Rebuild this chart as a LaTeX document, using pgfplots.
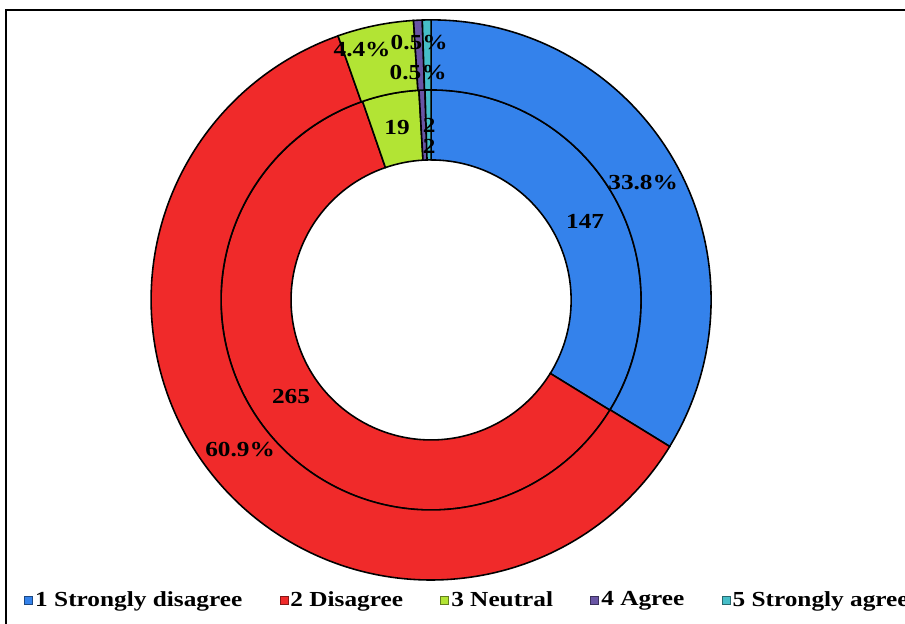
\documentclass[border=0pt]{standalone}
\usepackage{fontspec}
\setmainfont[FakeStretch=1.18]{Liberation Serif}
\usepackage{pgfplots}
\usepackage{pgfplotstable}
\pgfplotsset{compat=1.18}

\definecolor{c0}{RGB}{52,130,235}
\definecolor{c1}{RGB}{240,42,42}
\definecolor{c2}{RGB}{178,228,52}
\definecolor{c3}{RGB}{105,85,165}
\definecolor{c4}{RGB}{70,190,200}
\newcommand\lblfont{\fontsize{12.2}{14.6}\selectfont\bfseries}

% responses: count (inner ring), percent (outer ring), label positions
\pgfplotstableread{
cat count pct ox  oy  ix  iy
0   147   33.8 643 440 585 401
1   265   60.9 240 173 291 226
2   19    4.4  362 573 397 495
3   2     0.5  419 580 429 497
4   2     0.5  418 550 429 477
}\responses
\pgfplotstablecreatecol[create col/expr accum={\pgfmathaccuma+\thisrow{count}}{0}]{ccum}\responses
\pgfplotstablecreatecol[create col/expr accum={\pgfmathaccuma+\thisrow{pct}}{0}]{pcum}\responses
\pgfplotstablegetelem{4}{ccum}\of\responses \let\ctotal\pgfplotsretval
\pgfplotstablegetelem{4}{pcum}\of\responses \let\ptotal\pgfplotsretval

\begin{document}
\begin{tikzpicture}
\path[use as bounding box, clip] (0,0) rectangle (18.1cm,12.46cm);
\begin{axis}[
  x=0.02cm, y=0.02cm,
  xmin=0, xmax=905, ymin=0, ymax=623,
  hide axis, clip=false,
  legend columns=5,
  legend cell align=left,
  legend style={at={(axis description cs:0.0265,0.0369)}, anchor=west,
    draw=none, fill=none, inner sep=0pt, font=\lblfont,
    nodes={inner sep=1.2pt},
    /tikz/every even column/.append style={column sep=20pt}},
  legend image code/.code={\filldraw[#1] (0pt,-2.3pt) rectangle (4.6pt,2.3pt);},
]
\addlegendimage{fill=c0, draw=c0!55!black}
\addlegendimage{fill=c1, draw=c1!55!black}
\addlegendimage{fill=c2, draw=c2!55!black}
\addlegendimage{fill=c3, draw=c3!55!black}
\addlegendimage{fill=c4, draw=c4!55!black}
\legend{1 Strongly disagree, 2 Disagree, 3 Neutral, 4 Agree, 5 Strongly agree}

% frame
\draw[line width=1pt] (axis cs:6,-20) -- (axis cs:6,613) -- (axis cs:930,613);

% rings: inner from counts, outer from percentages
\pgfplotsinvokeforeach{0,...,4}{
  \pgfplotstablegetelem{#1}{count}\of\responses \let\cnt\pgfplotsretval
  \pgfplotstablegetelem{#1}{ccum}\of\responses \let\ccm\pgfplotsretval
  \pgfplotstablegetelem{#1}{pct}\of\responses \let\pc\pgfplotsretval
  \pgfplotstablegetelem{#1}{pcum}\of\responses \let\pcm\pgfplotsretval
  \pgfmathsetmacro\ia{90-(\ccm-\cnt)/\ctotal*360}
  \pgfmathsetmacro\ib{90-\ccm/\ctotal*360}
  \pgfmathsetmacro\oa{90-(\pcm-\pc)/\ptotal*360}
  \pgfmathsetmacro\ob{90-\pcm/\ptotal*360}
  % inner ring corners (r = 140 and 210)
  \pgfmathsetmacro\ixa{431+210*cos(\ia)}\pgfmathsetmacro\iya{323+210*sin(\ia)}
  \pgfmathsetmacro\ixb{431+140*cos(\ib)}\pgfmathsetmacro\iyb{323+140*sin(\ib)}
  % outer ring corners (r = 210 and 280)
  \pgfmathsetmacro\oxa{431+280*cos(\oa)}\pgfmathsetmacro\oya{323+280*sin(\oa)}
  \pgfmathsetmacro\oxb{431+210*cos(\ob)}\pgfmathsetmacro\oyb{323+210*sin(\ob)}
  \edef\wedges{%
    \noexpand\filldraw[fill=c#1, draw=black, line width=0.9pt]
      (axis cs:\ixa,\iya) arc[start angle=\ia, end angle=\ib, radius=4.2cm]
      -- (axis cs:\ixb,\iyb) arc[start angle=\ib, end angle=\ia, radius=2.8cm] -- cycle;
    \noexpand\filldraw[fill=c#1, draw=black, line width=0.9pt]
      (axis cs:\oxa,\oya) arc[start angle=\oa, end angle=\ob, radius=5.6cm]
      -- (axis cs:\oxb,\oyb) arc[start angle=\ob, end angle=\oa, radius=4.2cm] -- cycle;
  }
  \wedges
}
% data labels
\pgfplotsinvokeforeach{0,...,4}{
  \pgfplotstablegetelem{#1}{count}\of\responses \let\cnt\pgfplotsretval
  \pgfplotstablegetelem{#1}{pct}\of\responses \let\pc\pgfplotsretval
  \pgfplotstablegetelem{#1}{ox}\of\responses \let\lox\pgfplotsretval
  \pgfplotstablegetelem{#1}{oy}\of\responses \let\loy\pgfplotsretval
  \pgfplotstablegetelem{#1}{ix}\of\responses \let\lix\pgfplotsretval
  \pgfplotstablegetelem{#1}{iy}\of\responses \let\liy\pgfplotsretval
  \edef\labels{%
    \noexpand\node[font=\noexpand\lblfont, inner sep=0pt] at (axis cs:\lox,\loy) {\pc\noexpand\%};
    \noexpand\node[font=\noexpand\lblfont, inner sep=0pt] at (axis cs:\lix,\liy) {\cnt};
  }
  \labels
}
\end{axis}
\end{tikzpicture}
\end{document}
